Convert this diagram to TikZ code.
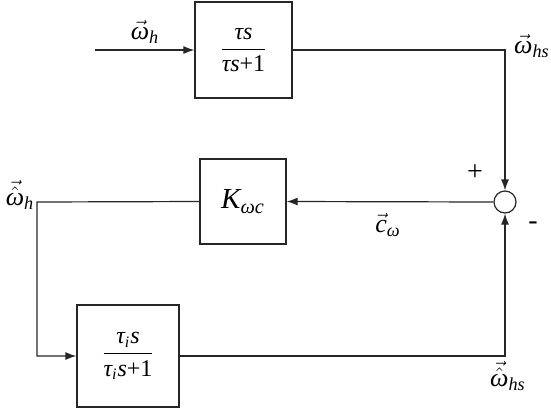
\documentclass[tikz,border=0pt]{standalone}
\usepackage{amsmath}
\usepackage{fontspec}
\setmainfont{Liberation Serif}
\usetikzlibrary{arrows.meta}
\newcommand{\tm}[1]{\text{\itshape #1}}
\newcommand{\tn}[1]{\text{#1}}
\begin{document}
\begin{tikzpicture}[x=0.5pt,y=-0.5pt,
  line width=0.6pt, draw=black!85,
  arr/.style={-{Latex[length=5.5pt,width=4pt]}},
  blk/.style={draw, line width=0.65pt, inner sep=0pt, align=center},
  lbl/.style={inner sep=0pt, font=\fontsize{13}{15}\selectfont},
  frc/.style={font=\fontsize{12}{14}\selectfont},
  sumc/.style={draw, circle, minimum size=11pt, inner sep=0pt}]
\useasboundingbox (0,0) rectangle (551,408);
\node[blk, frc, minimum width=48.5pt, minimum height=48pt] (G1) at (243.5,50) {$\dfrac{\tm{τs}}{\tm{τs}\tn{+}\tn{1}}$};
\node[blk, minimum width=43pt, minimum height=42.5pt] (K) at (243,201.5) {\fontsize{14.5}{16}\selectfont$\tm{K}_{\tm{ωc}}$};
\node[blk, frc, minimum width=51pt, minimum height=51pt] (G2) at (128,356) {$\dfrac{\tm{τ}_{\tm{i}}\tm{s}}{\tm{τ}_{\tm{i}}\tm{s}\tn{+}\tn{1}}$};
\node[sumc] (S) at (505,202) {};
\coordinate (in) at (95,50);
\coordinate (c1) at (505,50);
\coordinate (c2) at (37,202);
\coordinate (c3) at (37,356);
\coordinate (c4) at (505,356);
\draw[arr] (in) -- (G1.west);
\draw[arr] (G1.east) -- (c1) -- (S.north);
\draw[arr] (S.west) -- (K.east);
\draw[arr] (K.west) -- (c2) -- (c3) -- (G2.west);
\draw[arr] (G2.east) -- (c4) -- (S.south);
\node[lbl] (l1) at (145,32) {$\vec{\tm{ω}}_{\tm{h}}$};
\node[lbl] (l2) at (532,46) {$\vec{\tm{ω}}_{\tm{hs}}$};
\node[lbl, font=\fontsize{14}{16}\selectfont] (lp) at (475,173) {+};
\node[lbl, font=\fontsize{14}{16}\selectfont] (lm) at (533,226) {-};
\node[lbl] (l3) at (388,225) {$\vec{\tm{c}}_{\tm{ω}}$};
\node[lbl] (l4) at (20,195) {$\vec{\hat{\tm{ω}}}_{\tm{h}}$};
\node[lbl] (l5) at (508,376) {$\vec{\hat{\tm{ω}}}_{\tm{hs}}$};
\end{tikzpicture}
\end{document}
